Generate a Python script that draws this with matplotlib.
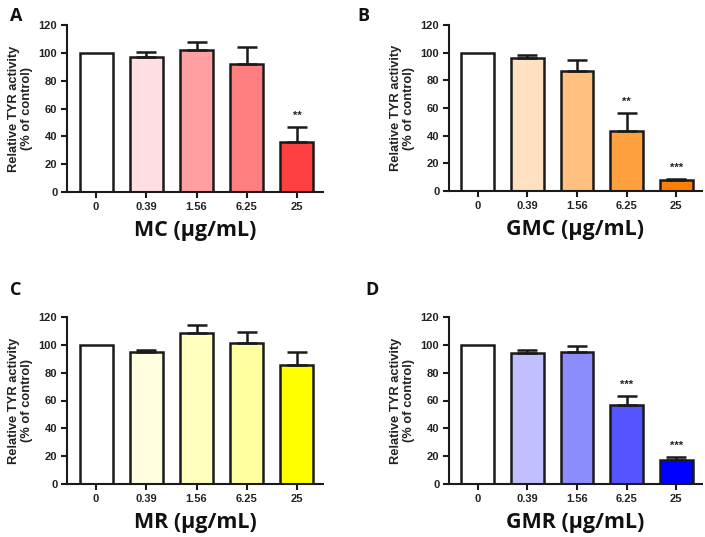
import matplotlib
matplotlib.use("Agg")
import matplotlib.pyplot as plt

categories = ["0", "0.39", "1.56", "6.25", "25"]

mc_vals = [100, 97, 102, 92, 36]
mc_err = [0, 3.5, 6, 12, 11]
mc_sig = ["", "", "", "", "**"]

gmc_vals = [100, 96, 86.5, 43.5, 8]
gmc_err = [0, 2.5, 8, 13, 1]
gmc_sig = ["", "", "", "**", "***"]

mr_vals = [100, 95, 108.5, 101, 85.5]
mr_err = [0, 1.5, 6, 8.5, 9]
mr_sig = ["", "", "", "", ""]

gmr_vals = [100, 94, 95, 57, 17]
gmr_err = [0, 2, 4.5, 6.5, 2.5]
gmr_sig = ["", "", "", "***", "***"]

panels = [
    ("A", "MC (μg/mL)", mc_vals, mc_err, mc_sig,
     ["#FFFFFF", "#FFDFE2", "#FF9FA2", "#FF7F80", "#FF4040"]),
    ("B", "GMC (μg/mL)", gmc_vals, gmc_err, gmc_sig,
     ["#FFFFFF", "#FFE0C0", "#FFC080", "#FFA040", "#FF8000"]),
    ("C", "MR (μg/mL)", mr_vals, mr_err, mr_sig,
     ["#FFFFFF", "#FFFFE0", "#FFFFC0", "#FFFFA0", "#FFFF00"]),
    ("D", "GMR (μg/mL)", gmr_vals, gmr_err, gmr_sig,
     ["#FFFFFF", "#C0C0FF", "#8C8CFF", "#5555FF", "#0000FF"]),
]

W, H = 705, 537
fig = plt.figure(figsize=(W / 100, H / 100), dpi=100)

rects = [
    (67, 323, 25, 192),
    (449, 702, 25, 191),
    (67, 323, 317, 484),
    (449, 702, 317, 484),
]
letter_pos = [(10, 16), (357, 16), (10, 290), (365, 290)]

for (letter, xlabel, vals, errs, sigs, colors), (l, r, t, b), (lx, ly) in zip(panels, rects, letter_pos):
    ax = fig.add_axes([l / W, 1 - b / H, (r - l) / W, (b - t) / H])
    x = list(range(len(categories)))
    ax.bar(x, vals, width=0.66, color=colors, edgecolor="#1a1a1a", linewidth=1.8, zorder=2)
    for xi, v, e in zip(x, vals, errs):
        if e > 0:
            ax.errorbar([xi], [v], yerr=[[0], [e]], fmt="none", ecolor="#1a1a1a",
                        elinewidth=1.8, capsize=7, capthick=1.8, zorder=3)
    for xi, v, e, s in zip(x, vals, errs, sigs):
        if s:
            ax.text(xi, v + e + 4, s, ha="center", va="bottom", fontsize=8,
                    fontweight="bold", family="Liberation Sans", color="#222222")
    ax.set_xlim(-0.58, 4.52)
    ax.set_ylim(0, 120)
    ax.set_yticks([0, 20, 40, 60, 80, 100, 120])
    ax.set_xticks(x)
    ax.set_xticklabels(categories)
    for sp in ["top", "right"]:
        ax.spines[sp].set_visible(False)
    for sp in ["left", "bottom"]:
        ax.spines[sp].set_linewidth(1.5)
        ax.spines[sp].set_color("#1a1a1a")
    ax.tick_params(axis="both", width=1.5, length=4, color="#1a1a1a", labelsize=8,
                   pad=3)
    for lab in ax.get_xticklabels() + ax.get_yticklabels():
        lab.set_fontweight("bold")
        lab.set_family("Liberation Sans")
        lab.set_color("#222222")
    ax.set_ylabel("Relative TYR activity\n(% of control)", fontsize=9.3, fontweight="bold",
                  family="Liberation Sans", color="#222222", labelpad=4, linespacing=1.15)
    ax.set_xlabel(xlabel, fontsize=15.5, fontweight="bold", family="Open Sans",
                  color="#111111", labelpad=6)
    fig.text(lx / W, 1 - ly / H, letter, fontsize=13, fontweight="bold",
             family="Open Sans", ha="left", va="center", color="#111111")

fig.savefig("out.png", dpi=100, facecolor="white")
